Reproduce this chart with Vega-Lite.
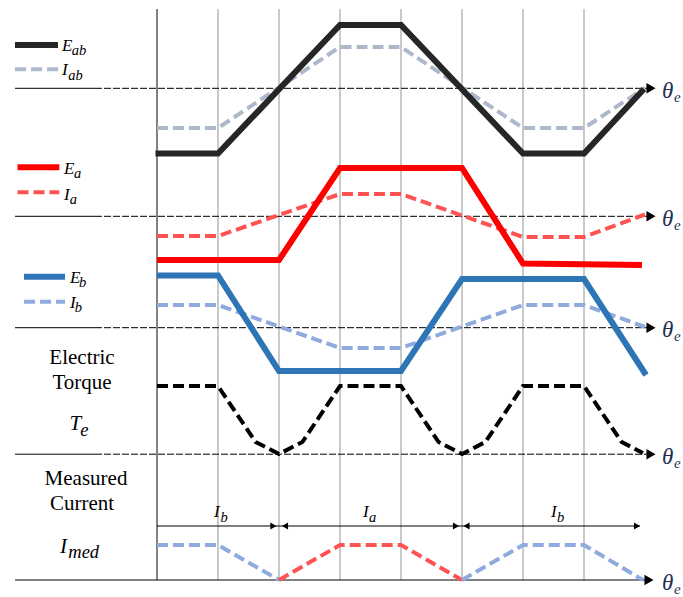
{
  "$schema": "https://vega.github.io/schema/vega-lite/v6.json",
  "width": 683,
  "height": 597,
  "padding": 0,
  "autosize": {"type": "fit", "contains": "padding"},
  "background": "white",
  "config": {"view": {"stroke": null}, "text": {"font": "Liberation Serif"}},
  "resolve": {"scale": {"color": "independent"}},
  "encoding": {
    "x": {"field": "x", "type": "quantitative", "scale": {"domain": [-154.43, 517.38], "nice": false, "zero": false}, "axis": null},
    "y": {"field": "y", "type": "quantitative", "scale": {"domain": [0, 597], "reverse": true, "nice": false, "zero": false}, "axis": null}
  },
  "layer": [
    {
      "data": {"values": [
        {"x": 60, "y": 9, "y2": 580}, {"x": 120, "y": 9, "y2": 580}, {"x": 180, "y": 9, "y2": 580},
        {"x": 240, "y": 9, "y2": 580}, {"x": 300, "y": 9, "y2": 580}, {"x": 360, "y": 9, "y2": 580},
        {"x": 420, "y": 9, "y2": 580}
      ]},
      "mark": {"type": "rule", "color": "#a6a6a6", "strokeWidth": 1.2},
      "encoding": {"y2": {"field": "y2"}}
    },
    {
      "data": {"values": [{"x": 0, "y": 9, "y2": 580}]},
      "mark": {"type": "rule", "color": "#595959", "strokeWidth": 1.5},
      "encoding": {"y2": {"field": "y2"}}
    },
    {
      "data": {"values": [
        {"x": -139.67, "x2": -60.98, "y": 88.3},
        {"x": -139.67, "x2": -60.98, "y": 216.3},
        {"x": -139.67, "x2": -60.98, "y": 327.7},
        {"x": -139.67, "x2": -60.98, "y": 454.2},
        {"x": -139.67, "x2": 482.95, "y": 580}
      ]},
      "mark": {"type": "rule", "color": "#000000", "strokeWidth": 1},
      "encoding": {"x2": {"field": "x2"}}
    },
    {
      "data": {"values": [
        {"x": -60.98, "x2": 482.95, "y": 88.3},
        {"x": -60.98, "x2": 482.95, "y": 216.3},
        {"x": -60.98, "x2": 482.95, "y": 327.7},
        {"x": -60.98, "x2": 482.95, "y": 454.2}
      ]},
      "mark": {"type": "rule", "color": "#000000", "strokeWidth": 1, "strokeDash": [7, 2]},
      "encoding": {"x2": {"field": "x2"}}
    },
    {
      "data": {"values": [
        {"x": 0, "x2": 120, "y": 526},
        {"x": 120, "x2": 300, "y": 526},
        {"x": 300, "x2": 475.08, "y": 526}
      ]},
      "mark": {"type": "rule", "color": "#000000", "strokeWidth": 1.2},
      "encoding": {"x2": {"field": "x2"}}
    },
    {
      "data": {"values": [
        {"s": "Iab", "g": "Iab", "i": 0, "x": 0, "y": 128},
        {"s": "Iab", "g": "Iab", "i": 1, "x": 60, "y": 128},
        {"s": "Iab", "g": "Iab", "i": 2, "x": 180, "y": 47},
        {"s": "Iab", "g": "Iab", "i": 3, "x": 240, "y": 47},
        {"s": "Iab", "g": "Iab", "i": 4, "x": 360, "y": 128},
        {"s": "Iab", "g": "Iab", "i": 5, "x": 420, "y": 128},
        {"s": "Iab", "g": "Iab", "i": 6, "x": 480, "y": 88},
        {"s": "Iab", "g": "IabLeg", "i": 0, "x": -139.67, "y": 69.3},
        {"s": "Iab", "g": "IabLeg", "i": 1, "x": -97.38, "y": 69.3},
        {"s": "Ia", "g": "Ia", "i": 0, "x": 0, "y": 236},
        {"s": "Ia", "g": "Ia", "i": 1, "x": 60, "y": 236},
        {"s": "Ia", "g": "Ia", "i": 2, "x": 180, "y": 194},
        {"s": "Ia", "g": "Ia", "i": 3, "x": 240, "y": 194},
        {"s": "Ia", "g": "Ia", "i": 4, "x": 360, "y": 237},
        {"s": "Ia", "g": "Ia", "i": 5, "x": 420, "y": 237},
        {"s": "Ia", "g": "Ia", "i": 6, "x": 480, "y": 214.5},
        {"s": "Ia", "g": "IaLeg", "i": 0, "x": -137.2, "y": 192.3},
        {"s": "Ia", "g": "IaLeg", "i": 1, "x": -96.1, "y": 192.3},
        {"s": "Ib", "g": "Ib", "i": 0, "x": 0, "y": 305},
        {"s": "Ib", "g": "Ib", "i": 1, "x": 60, "y": 305},
        {"s": "Ib", "g": "Ib", "i": 2, "x": 180, "y": 348},
        {"s": "Ib", "g": "Ib", "i": 3, "x": 240, "y": 348},
        {"s": "Ib", "g": "Ib", "i": 4, "x": 360, "y": 305},
        {"s": "Ib", "g": "Ib", "i": 5, "x": 420, "y": 305},
        {"s": "Ib", "g": "Ib", "i": 6, "x": 480, "y": 327},
        {"s": "Ib", "g": "IbLeg", "i": 0, "x": -130.82, "y": 301.7},
        {"s": "Ib", "g": "IbLeg", "i": 1, "x": -90.49, "y": 301.7},
        {"s": "Te", "g": "Te", "i": 0, "x": 0, "y": 386},
        {"s": "Te", "g": "Te", "i": 1, "x": 60, "y": 386},
        {"s": "Te", "g": "Te", "i": 2, "x": 97, "y": 442},
        {"s": "Te", "g": "Te", "i": 3, "x": 120, "y": 454},
        {"s": "Te", "g": "Te", "i": 4, "x": 143, "y": 442},
        {"s": "Te", "g": "Te", "i": 5, "x": 180, "y": 386},
        {"s": "Te", "g": "Te", "i": 6, "x": 240, "y": 386},
        {"s": "Te", "g": "Te", "i": 7, "x": 277, "y": 442},
        {"s": "Te", "g": "Te", "i": 8, "x": 300, "y": 454},
        {"s": "Te", "g": "Te", "i": 9, "x": 323, "y": 442},
        {"s": "Te", "g": "Te", "i": 10, "x": 360, "y": 386},
        {"s": "Te", "g": "Te", "i": 11, "x": 420, "y": 386},
        {"s": "Te", "g": "Te", "i": 12, "x": 457, "y": 442},
        {"s": "Te", "g": "Te", "i": 13, "x": 478, "y": 453},
        {"s": "ImedB", "g": "ImedB1", "i": 0, "x": 0, "y": 545},
        {"s": "ImedB", "g": "ImedB1", "i": 1, "x": 60, "y": 545},
        {"s": "ImedB", "g": "ImedB1", "i": 2, "x": 120, "y": 580},
        {"s": "ImedA", "g": "ImedA", "i": 0, "x": 120, "y": 580},
        {"s": "ImedA", "g": "ImedA", "i": 1, "x": 180, "y": 545},
        {"s": "ImedA", "g": "ImedA", "i": 2, "x": 240, "y": 545},
        {"s": "ImedA", "g": "ImedA", "i": 3, "x": 300, "y": 580},
        {"s": "ImedB", "g": "ImedB2", "i": 0, "x": 300, "y": 580},
        {"s": "ImedB", "g": "ImedB2", "i": 1, "x": 360, "y": 545},
        {"s": "ImedB", "g": "ImedB2", "i": 2, "x": 420, "y": 545},
        {"s": "ImedB", "g": "ImedB2", "i": 3, "x": 478, "y": 580}
      ]},
      "mark": {"type": "line", "strokeWidth": 4, "strokeDash": [11, 5], "strokeCap": "butt", "strokeJoin": "miter"},
      "encoding": {
        "color": {"field": "s", "type": "nominal", "legend": null,
          "scale": {"domain": ["Iab", "Ia", "Ib", "Te", "ImedB", "ImedA"],
                    "range": ["#adb9ca", "#ff5353", "#8faadc", "#000000", "#8faadc", "#ff5353"]}},
        "detail": {"field": "g"},
        "order": {"field": "i", "type": "quantitative"}
      }
    },
    {
      "data": {"values": [
        {"s": "Eab", "g": "Eab", "i": 0, "x": -1.5, "y": 153.5},
        {"s": "Eab", "g": "Eab", "i": 1, "x": 60, "y": 153.5},
        {"s": "Eab", "g": "Eab", "i": 2, "x": 180, "y": 25},
        {"s": "Eab", "g": "Eab", "i": 3, "x": 240, "y": 25},
        {"s": "Eab", "g": "Eab", "i": 4, "x": 360, "y": 153.5},
        {"s": "Eab", "g": "Eab", "i": 5, "x": 420, "y": 153.5},
        {"s": "Eab", "g": "Eab", "i": 6, "x": 479, "y": 89},
        {"s": "Eab", "g": "EabLeg", "i": 0, "x": -139.67, "y": 45},
        {"s": "Eab", "g": "EabLeg", "i": 1, "x": -97.38, "y": 45},
        {"s": "Ea", "g": "Ea", "i": 0, "x": 0, "y": 260},
        {"s": "Ea", "g": "Ea", "i": 1, "x": 120, "y": 260},
        {"s": "Ea", "g": "Ea", "i": 2, "x": 180, "y": 168},
        {"s": "Ea", "g": "Ea", "i": 3, "x": 300, "y": 168},
        {"s": "Ea", "g": "Ea", "i": 4, "x": 360, "y": 263.5},
        {"s": "Ea", "g": "Ea", "i": 5, "x": 477, "y": 265},
        {"s": "Ea", "g": "EaLeg", "i": 0, "x": -137.2, "y": 167.3},
        {"s": "Ea", "g": "EaLeg", "i": 1, "x": -96.1, "y": 167.3},
        {"s": "Eb", "g": "Eb", "i": 0, "x": 0, "y": 275.5},
        {"s": "Eb", "g": "Eb", "i": 1, "x": 60, "y": 275.5},
        {"s": "Eb", "g": "Eb", "i": 2, "x": 120, "y": 371},
        {"s": "Eb", "g": "Eb", "i": 3, "x": 240, "y": 371},
        {"s": "Eb", "g": "Eb", "i": 4, "x": 300, "y": 279},
        {"s": "Eb", "g": "Eb", "i": 5, "x": 420, "y": 279},
        {"s": "Eb", "g": "Eb", "i": 6, "x": 481, "y": 375},
        {"s": "Eb", "g": "EbLeg", "i": 0, "x": -130.82, "y": 276.7},
        {"s": "Eb", "g": "EbLeg", "i": 1, "x": -90.49, "y": 276.7}
      ]},
      "mark": {"type": "line", "strokeWidth": 6, "strokeCap": "butt", "strokeJoin": "miter"},
      "encoding": {
        "color": {"field": "s", "type": "nominal", "legend": null,
          "scale": {"domain": ["Eab", "Ea", "Eb"], "range": ["#262626", "#ff0000", "#2e75b6"]}},
        "detail": {"field": "g"},
        "order": {"field": "i", "type": "quantitative"}
      }
    },
    {
      "data": {"values": [
        {"x": 485.9, "y": 88.3}, {"x": 485.9, "y": 216.3}, {"x": 485.9, "y": 327.7},
        {"x": 485.9, "y": 454.2}, {"x": 483.9, "y": 580}
      ]},
      "mark": {"type": "point", "shape": "triangle-right", "filled": true, "color": "#000000", "size": 110, "opacity": 1, "strokeWidth": 0}
    },
    {
      "data": {"values": [
        {"x": 114.49, "y": 526}, {"x": 294.1, "y": 526}, {"x": 472.13, "y": 526}
      ]},
      "mark": {"type": "point", "shape": "triangle-right", "filled": true, "color": "#000000", "size": 50, "opacity": 1, "strokeWidth": 0}
    },
    {
      "data": {"values": [
        {"x": 125.9, "y": 526}, {"x": 304.43, "y": 526}
      ]},
      "mark": {"type": "point", "shape": "triangle-left", "filled": true, "color": "#000000", "size": 50, "opacity": 1, "strokeWidth": 0}
    },
    {
      "data": {"values": [
        {"x": -93.44, "y": 50.5, "t": "E"}, {"x": -93.44, "y": 75, "t": "I"},
        {"x": -91.48, "y": 174, "t": "E"}, {"x": -91.48, "y": 200, "t": "I"},
        {"x": -85.57, "y": 283, "t": "E"}, {"x": -85.57, "y": 308, "t": "I"},
        {"x": 56.07, "y": 517, "t": "I"}, {"x": 202.6, "y": 517, "t": "I"}, {"x": 387.5, "y": 517, "t": "I"}
      ]},
      "mark": {"type": "text", "align": "left", "baseline": "alphabetic", "font": "Liberation Serif", "fontStyle": "italic", "fontSize": 17, "color": "#000000"},
      "encoding": {"text": {"field": "t"}}
    },
    {
      "data": {"values": [
        {"x": -83.9, "y": 55, "t": "ab"}, {"x": -87.25, "y": 79.5, "t": "ab"},
        {"x": -81.64, "y": 178, "t": "a"}, {"x": -85.9, "y": 204, "t": "a"},
        {"x": -76.7, "y": 287, "t": "b"}, {"x": -80.95, "y": 312, "t": "b"},
        {"x": 62.46, "y": 521.5, "t": "b"}, {"x": 208.5, "y": 521.5, "t": "a"}, {"x": 393.4, "y": 521.5, "t": "b"}
      ]},
      "mark": {"type": "text", "align": "left", "baseline": "alphabetic", "font": "Liberation Serif", "fontStyle": "italic", "fontSize": 14.5, "color": "#000000"},
      "encoding": {"text": {"field": "t"}}
    },
    {
      "data": {"values": [
        {"x": -73.77, "y": 364, "t": "Electric"}, {"x": -73.77, "y": 389, "t": "Torque"},
        {"x": -69.84, "y": 485, "t": "Measured"}, {"x": -73.77, "y": 510, "t": "Current"}
      ]},
      "mark": {"type": "text", "align": "center", "baseline": "alphabetic", "font": "Liberation Serif", "fontSize": 21, "color": "#000000"},
      "encoding": {"text": {"field": "t"}}
    },
    {
      "data": {"values": [
        {"x": -86.07, "y": 430, "t": "T"}, {"x": -95.41, "y": 553, "t": "I"}
      ]},
      "mark": {"type": "text", "align": "left", "baseline": "alphabetic", "font": "Liberation Serif", "fontStyle": "italic", "fontSize": 21, "color": "#000000"},
      "encoding": {"text": {"field": "t"}}
    },
    {
      "data": {"values": [
        {"x": -75.41, "y": 436, "t": "e"}, {"x": -87.25, "y": 558, "t": "med"}
      ]},
      "mark": {"type": "text", "align": "left", "baseline": "alphabetic", "font": "Liberation Serif", "fontStyle": "italic", "fontSize": 18.5, "color": "#000000"},
      "encoding": {"text": {"field": "t"}}
    },
    {
      "data": {"values": [
        {"x": 496.72, "y": 97.8, "t": "θ"}, {"x": 496.72, "y": 225.8, "t": "θ"},
        {"x": 496.72, "y": 337.2, "t": "θ"}, {"x": 496.72, "y": 463.7, "t": "θ"},
        {"x": 496.72, "y": 589.5, "t": "θ"}
      ]},
      "mark": {"type": "text", "align": "left", "baseline": "alphabetic", "font": "Liberation Serif", "fontStyle": "italic", "fontSize": 23, "color": "#1f3050"},
      "encoding": {"text": {"field": "t"}}
    },
    {
      "data": {"values": [
        {"x": 508.52, "y": 101.8, "t": "e"}, {"x": 508.52, "y": 229.8, "t": "e"},
        {"x": 508.52, "y": 341.2, "t": "e"}, {"x": 508.52, "y": 467.7, "t": "e"},
        {"x": 508.52, "y": 593.5, "t": "e"}
      ]},
      "mark": {"type": "text", "align": "left", "baseline": "alphabetic", "font": "Liberation Serif", "fontStyle": "italic", "fontSize": 15, "color": "#1f3050"},
      "encoding": {"text": {"field": "t"}}
    }
  ]
}
